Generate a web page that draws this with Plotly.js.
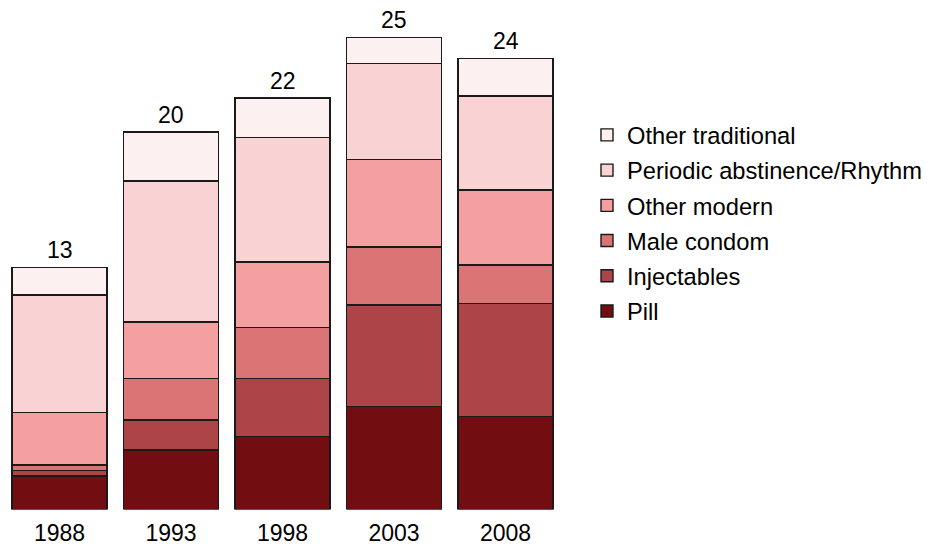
<!DOCTYPE html>
<html>
<head>
<meta charset="utf-8">
<script src="https://cdn.plot.ly/plotly-3.0.1.min.js"></script>
<style>html,body{margin:0;padding:0;background:#fff;}#chart{width:927px;height:546px;}</style>
</head>
<body>
<div id="chart"></div>
<script>
const years = ['1988', '1993', '1998', '2003', '2008'];
const totals = [13, 20, 22, 25, 24];

const pill          = [1.79, 3.17, 3.88, 5.48, 4.95];
const injectables   = [0.28, 1.60, 3.11, 5.42, 6.05];
const maleCondom    = [0.30, 2.22, 2.72, 3.11, 2.04];
const otherModern   = [2.81, 3.02, 3.50, 4.66, 4.00];
const periodic      = [6.26, 7.52, 6.63, 5.12, 5.01];
const otherTrad     = [1.48, 2.61, 2.11, 1.39, 2.01];

const seriesNames  = ['Pill', 'Injectables', 'Male condom', 'Other modern', 'Periodic abstinence/Rhythm', 'Other traditional'];
const seriesValues = [pill, injectables, maleCondom, otherModern, periodic, otherTrad];
const seriesColors = ['#720e11', '#ad4447', '#db7475', '#f4a0a1', '#f9d2d3', '#fcf0f1'];

const FONT = 'Liberation Sans, Arial, Helvetica, sans-serif';

const traces = seriesNames.map((name, i) => ({
  type: 'bar',
  name: name,
  x: years,
  y: seriesValues[i],
  legendgroup: 'g' + i,
  legendrank: seriesNames.length - i,
  marker: {color: seriesColors[i], line: {color: '#1a1a1a', width: 1.4}},
  hoverinfo: 'name+y'
}));

const stackTops = years.map((_, j) => seriesValues.reduce((s, arr) => s + arr[j], 0));

const annotations = years.map((yr, j) => ({
  x: j, y: stackTops[j], xref: 'x', yref: 'y',
  text: String(totals[j]), showarrow: false,
  yanchor: 'bottom', yshift: 2,
  font: {family: FONT, size: 23, color: '#000'}
}));

const layout = {
  width: 927, height: 546,
  margin: {l: 0, r: 0, t: 0, b: 0, autoexpand: false},
  paper_bgcolor: '#fff', plot_bgcolor: '#fff',
  barmode: 'stack', bargap: 0.148,
  font: {family: FONT, size: 23, color: '#000'},
  xaxis: {
    type: 'category', domain: [3.75/927, 561.25/927],
    range: [-0.5, years.length - 0.5], autorange: false,
    showline: false, showgrid: false, zeroline: false, ticks: '',
    ticklabelstandoff: 7, automargin: false,
    tickfont: {family: FONT, size: 23, color: '#000'}
  },
  yaxis: {
    range: [0, 26.5], autorange: false, domain: [36.5/546, (546-12.6)/546],
    visible: false, showgrid: false, zeroline: false, automargin: false
  },
  showlegend: true,
  legend: {
    x: 587/927, xanchor: 'left', y: (546-113)/546, yanchor: 'top',
    traceorder: 'grouped', tracegroupgap: 1.4,
    font: {family: FONT, size: 23.7, color: '#000'},
    bgcolor: 'rgba(0,0,0,0)'
  },
  annotations: annotations
};

Plotly.newPlot('chart', traces, layout, {displayModeBar: false, staticPlot: true});
</script>
</body>
</html>
